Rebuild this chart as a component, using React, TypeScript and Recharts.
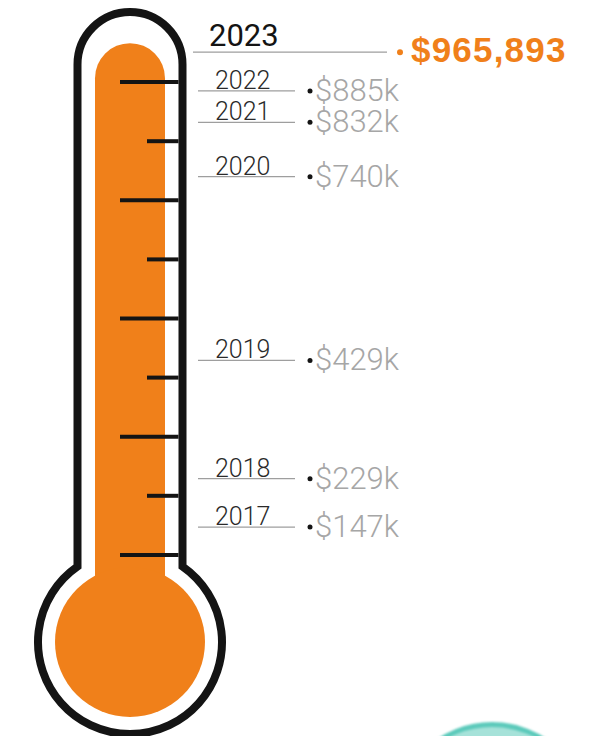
import React from 'react';
import { ComposedChart, Bar, Scatter, XAxis, YAxis } from 'recharts';

// ---- data ----
const years = ['2017', '2018', '2019', '2020', '2021', '2022', '2023'];
const raised = [147000, 229000, 429000, 740000, 832000, 885000, 965893];
const valueLabels = ['$147k', '$229k', '$429k', '$740k', '$832k', '$885k', '$965,893'];
const scaleTicks = [100000, 200000, 300000, 400000, 500000, 600000, 700000, 800000, 900000];
const CATEGORY = 'Raised';
const total = raised[raised.length - 1];

const barData = [{ cat: CATEGORY, total }];
const labelData = years.map((year, i) => ({
  cat: CATEGORY,
  value: raised[i],
  year,
  label: valueLabels[i],
  highlight: i === years.length - 1,
}));

const ORANGE = '#F0801A';
const INK = '#141414';
const GREY_TEXT = '#A6A6A6';
const RULE = '#9E9E9E';

function Thermometer(props: any) {
  const { x, y, width, height } = props;
  const cx = x + width / 2;
  const r = width / 2;
  const base = y + height;
  const unit = height / total;
  const bulbCy = base + 28;
  const bulbR = 75;
  const tubeHalf = 52.5;
  const outlineTop = base - 602;
  const outlineR = 92;
  const neckY = bulbCy - Math.sqrt(outlineR * outlineR - tubeHalf * tubeHalf);
  const arcCy = outlineTop + tubeHalf;
  const outline = `M ${cx - tubeHalf} ${neckY} L ${cx - tubeHalf} ${arcCy} A ${tubeHalf} ${tubeHalf} 0 0 1 ${cx + tubeHalf} ${arcCy} L ${cx + tubeHalf} ${neckY} A ${outlineR} ${outlineR} 0 1 1 ${cx - tubeHalf} ${neckY} Z`;
  const tube = `M ${x} ${bulbCy} L ${x} ${y + r} A ${r} ${r} 0 0 1 ${x + width} ${y + r} L ${x + width} ${bulbCy} Z`;
  return (
    <g>
      <path d={tube} fill={ORANGE} />
      <circle cx={cx} cy={bulbCy} r={bulbR} fill={ORANGE} />
      <path d={outline} fill="none" stroke={INK} strokeWidth={8} strokeLinejoin="miter" />
      {scaleTicks.map((t, i) => {
        const ty = base - t * unit;
        const long = i % 2 === 0;
        return (
          <line
            key={t}
            x1={long ? cx - 10 : cx + 17}
            x2={cx + tubeHalf - 4}
            y1={ty}
            y2={ty}
            stroke={INK}
            strokeWidth={4}
          />
        );
      })}
    </g>
  );
}

function LabelMark(props: any) {
  const { cx, cy, payload } = props;
  if (cx == null || cy == null) return null;
  if (payload.highlight) {
    const ly = cy + 9;
    return (
      <g>
        <line x1={cx + 63} x2={cx + 257} y1={ly} y2={ly} stroke={RULE} strokeWidth={1.3} />
        <text x={cx + 79} y={ly - 6} fontFamily="Roboto, 'Liberation Sans', sans-serif" fontSize={31} fill={INK}>
          {payload.year}
        </text>
        <circle cx={cx + 270} cy={ly} r={3} fill={ORANGE} />
        <text
          x={cx + 281}
          y={ly + 10}
          fontFamily="'Liberation Sans', Arial, sans-serif"
          fontWeight={700}
          fontSize={35}
          letterSpacing={1.2}
          fill={ORANGE}
        >
          {payload.label}
        </text>
      </g>
    );
  }
  return (
    <g>
      <line x1={cx + 68} x2={cx + 165} y1={cy} y2={cy} stroke={RULE} strokeWidth={1.3} />
      <text x={cx + 85} y={cy - 2} fontFamily="Roboto, sans-serif" fontWeight={300} fontSize={25} fill="#2a2a2a">
        {payload.year}
      </text>
      <circle cx={cx + 180} cy={cy} r={2.5} fill={INK} />
      <text x={cx + 185} y={cy + 10} fontFamily="Roboto, sans-serif" fontWeight={300} fontSize={31} fill={GREY_TEXT}>
        {payload.label}
      </text>
    </g>
  );
}

export default function App() {
  return (
    <div style={{ position: 'absolute', left: 0, top: 0, width: 604, height: 736, overflow: 'hidden', background: '#fff' }}>
      <ComposedChart
        width={604}
        height={736}
        data={barData}
        margin={{ top: 23, right: 344, bottom: 122, left: 0 }}
      >
        <XAxis dataKey="cat" type="category" allowDuplicatedCategory={false} hide />
        <YAxis type="number" domain={[0, 1000000]} hide />
        <Bar dataKey="total" barSize={70} isAnimationActive={false} shape={(p: any) => <Thermometer {...p} />} />
        <Scatter
          data={labelData}
          dataKey="value"
          isAnimationActive={false}
          shape={(p: any) => <LabelMark {...p} />}
        />
      </ComposedChart>
      <div
        style={{
          position: 'absolute',
          left: 492 - 98,
          top: 722,
          width: 196,
          height: 196,
          boxSizing: 'border-box',
          borderRadius: '50%',
          background: '#A6E2D9',
          border: '5px solid #5CCABB',
          filter: 'blur(1px)',
        }}
      />
    </div>
  );
}
